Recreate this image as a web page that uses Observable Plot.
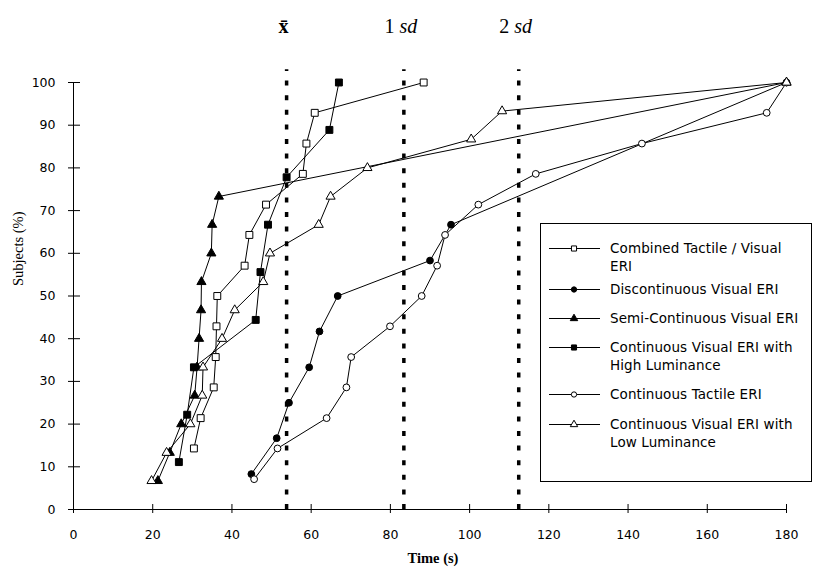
<!DOCTYPE html>
<html>
<head>
<meta charset="utf-8">
<script src="https://cdn.jsdelivr.net/npm/d3@7"></script>
<script src="https://cdn.jsdelivr.net/npm/@observablehq/plot@0.6"></script>
<style>
  body { margin: 0; background: #fff; }
  #wrap { position: relative; width: 814px; height: 572px; }
  #legend { position: absolute; left: 540px; top: 223px; width: 272px; height: 259px;
    border: 1px solid #000; box-sizing: border-box; background: #fff;
    font-family: "DejaVu Sans", sans-serif; font-size: 13.5px; letter-spacing: 0.1px; color: #000; }
  .row { position: absolute; left: 0; width: 270px; }
  .row svg { position: absolute; left: 0; top: 0; }
  .row .lab { position: absolute; left: 69px; top: 0; line-height: 18px; white-space: nowrap; }
</style>
</head>
<body>
<div id="wrap"></div>
<script>
// ---- data ----
const seriesNames = [
  "Combined Tactile / Visual ERI",
  "Discontinuous Visual ERI",
  "Semi-Continuous Visual ERI",
  "Continuous Visual ERI with High Luminance",
  "Continuous Tactile ERI",
  "Continuous Visual ERI with Low Luminance"
];
const legendLines = [
  ["Combined Tactile / Visual", "ERI"],
  ["Discontinuous Visual ERI"],
  ["Semi-Continuous Visual ERI"],
  ["Continuous Visual ERI with", "High Luminance"],
  ["Continuous Tactile ERI"],
  ["Continuous Visual ERI with", "Low Luminance"]
];
const combinedTime = [30.4, 32.1, 35.4, 35.9, 36.1, 36.3, 43.2, 44.4, 48.6, 57.9, 58.8, 60.9, 88.4];
const combinedPct  = [14.3, 21.4, 28.6, 35.7, 42.9, 50.0, 57.1, 64.3, 71.4, 78.6, 85.7, 92.9, 100];
const discTime = [44.9, 51.3, 54.4, 59.5, 62.1, 66.7, 90.0, 95.3, 180];
const discPct  = [8.3, 16.7, 25.0, 33.3, 41.7, 50.0, 58.3, 66.7, 100];
const semiTime = [21.3, 24.3, 27.2, 30.6, 31.2, 31.7, 32.2, 32.3, 34.8, 35.0, 36.7, 180];
const semiPct  = [6.7, 13.3, 20.0, 26.7, 33.3, 40.0, 46.7, 53.3, 60.0, 66.7, 73.3, 100];
const highTime = [26.6, 28.7, 30.4, 46.0, 47.2, 49.1, 53.8, 64.6, 67.0];
const highPct  = [11.1, 22.2, 33.3, 44.4, 55.6, 66.7, 77.8, 88.9, 100];
const tactTime = [45.6, 51.5, 63.9, 68.9, 70.1, 79.9, 87.9, 91.8, 93.8, 102.2, 116.7, 143.5, 175.0, 180];
const tactPct  = [7.1, 14.3, 21.4, 28.6, 35.7, 42.9, 50.0, 57.1, 64.3, 71.4, 78.6, 85.7, 92.9, 100];
const lowTime = [19.7, 23.5, 29.5, 32.5, 32.7, 37.5, 40.7, 47.9, 49.6, 61.9, 64.9, 74.2, 100.4, 108.2, 180];
const lowPct  = [6.7, 13.3, 20.0, 26.7, 33.3, 40.0, 46.7, 53.3, 60.0, 66.7, 73.3, 80.0, 86.7, 93.3, 100];

const refX = [53.8, 83.4, 112.4];
const refLabels = ["x\u0304", "1 sd", "2 sd"];
const xTicks = [0, 20, 40, 60, 80, 100, 120, 140, 160, 180];
const yTicks = [0, 10, 20, 30, 40, 50, 60, 70, 80, 90, 100];
const xTitle = "Time (s)";
const yTitle = "Subjects (%)";

// ---- styling per series ----
const seriesTimes = [combinedTime, discTime, semiTime, highTime, tactTime, lowTime];
const seriesPcts = [combinedPct, discPct, semiPct, highPct, tactPct, lowPct];
const symbols = ["square", "circle", "triangle", "square", "circle", "triangle"];
const filled = [false, true, true, true, false, false];
const radius = {square: 3.9, circle: 3.4, triangle: 3.4};

const rows = [];
seriesNames.forEach((name, i) => {
  seriesTimes[i].forEach((t, j) => rows.push({series: name, idx: i, time: t, pct: seriesPcts[i][j]}));
});

const dotMarks = seriesNames.map((name, i) =>
  Plot.dot(rows.filter(d => d.idx === i), {
    x: "time", y: "pct", symbol: () => symbols[i], r: radius[symbols[i]],
    fill: filled[i] ? "#000" : "#fff", stroke: "#000", strokeWidth: 1
  })
);

const chart = Plot.plot({
  width: 814, height: 572,
  marginLeft: 73, marginRight: 28, marginTop: 82, marginBottom: 63,
  x: {domain: [0, 180]},
  y: {domain: [0, 100]},
  symbol: {type: "identity"},
  style: {fontFamily: "'DejaVu Sans', sans-serif", fontSize: "12.5px", color: "#000", background: "#fff", overflow: "visible"},
  marks: [
    Plot.ruleX(refX, {x: d => d, y1: 0, y2: 103, stroke: "#000", strokeWidth: 3.5, strokeDasharray: "5,9.6"}),
    Plot.ruleY([0], {stroke: "#000"}),
    Plot.ruleX([0], {stroke: "#000"}),
    Plot.axisX({ticks: xTicks, tickSize: 9, dy: -5, tickPadding: 17, label: null, tickFormat: d => String(d)}),
    Plot.axisY({ticks: yTicks, tickSize: 12, dx: 7, tickPadding: 13, label: null, tickFormat: d => String(d)}),
    Plot.line(rows, {x: "time", y: "pct", z: "series", stroke: "#000", strokeWidth: 1}),
    ...dotMarks,
    Plot.text(refX.map((x, i) => ({x, label: refLabels[i]})), {
      x: "x", text: "label", frameAnchor: "top", dy: -64, dx: -3,
      fontFamily: "'Liberation Serif', 'Times New Roman', serif", fontSize: 20, className: "reflab"
    }),
    Plot.text([xTitle], {frameAnchor: "bottom", dy: 53, dx: 3, fontFamily: "'Liberation Serif', serif",
      fontWeight: "bold", fontSize: 14.5}),
    Plot.text([yTitle], {frameAnchor: "left", dx: -55, dy: -10, rotate: -90,
      fontFamily: "'Liberation Serif', serif", fontSize: 14.5})
  ]
});

// italic "sd" in the reference labels
d3.select(chart).selectAll("g.reflab text").each(function () {
  const t = this.textContent;
  if (t.includes(" sd")) {
    const n = t.split(" ")[0];
    this.textContent = "";
    const sel = d3.select(this);
    sel.append("tspan").text(n + " ");
    sel.append("tspan").attr("font-style", "italic").text("sd");
  } else {
    d3.select(this).attr("font-weight", "bold");
  }
});

const wrap = document.getElementById("wrap");
wrap.appendChild(chart);

// ---- legend ----
const legend = document.createElement("div");
legend.id = "legend";
const rowTops = [24, 65, 94, 123, 170, 200];
const legSize = {square: 26, circle: 22, triangle: 24};
seriesNames.forEach((name, i) => {
  const row = document.createElement("div");
  row.className = "row";
  row.style.top = (rowTops[i] - 9.5) + "px";
  const path = d3.symbol().type({square: d3.symbolSquare, circle: d3.symbolCircle, triangle: d3.symbolTriangle}[symbols[i]]).size(legSize[symbols[i]])();
  row.innerHTML =
    `<svg width="66" height="19"><line x1="8" x2="59" y1="9.5" y2="9.5" stroke="#000" stroke-width="1"/>` +
    `<path d="${path}" transform="translate(33,9.5)" fill="${filled[i] ? "#000" : "#fff"}" stroke="#000" stroke-width="1"/></svg>` +
    `<div class="lab">${legendLines[i].join("<br>")}</div>`;
  legend.appendChild(row);
});
wrap.appendChild(legend);
</script>
</body>
</html>
